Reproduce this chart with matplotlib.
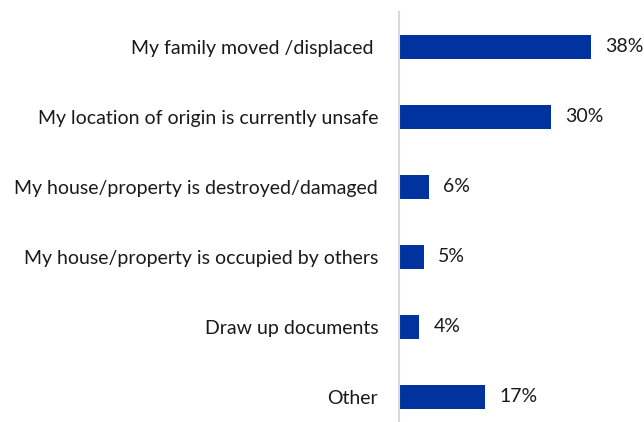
import matplotlib.pyplot as plt

categories = [
    'My family moved /displaced ',
    'My location of origin is currently unsafe',
    'My house/property is destroyed/damaged',
    'My house/property is occupied by others',
    'Draw up documents',
    'Other',
]
values = [38, 30, 6, 5, 4, 17]

plt.rcParams['font.family'] = ['Lato', 'DejaVu Sans']

fig = plt.figure(figsize=(6.44, 4.22), dpi=100)
# axes from the axis line (x=399px) to the right edge, top at y=12px
ax = fig.add_axes([399 / 644, 0, 1 - 399 / 644, 410 / 422])

y = list(range(len(categories)))
ax.barh(y, values, height=0.34, color='#0033A0')
ax.set_ylim(-0.5 + 410 / 70, -0.5)
ax.set_xlim(0, 48.5)

for yi, v in zip(y, values):
    ax.text(v + 2.8, yi, f'{v}%', va='center', ha='left', fontsize=14, color='#1a1a1a')

ax.set_yticks(y)
ax.set_yticklabels(categories, fontsize=14, color='#1a1a1a')
ax.tick_params(axis='y', length=0, pad=15)
ax.set_xticks([])
for s in ['top', 'right', 'bottom']:
    ax.spines[s].set_visible(False)
ax.spines['left'].set_color('#d9d9d9')
ax.spines['left'].set_linewidth(1.5)

fig.savefig('out.png', dpi=100)
